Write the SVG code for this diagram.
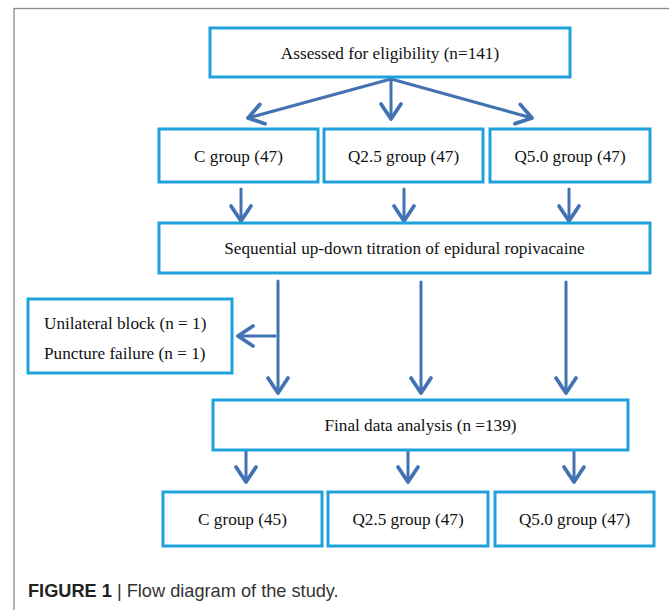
<svg xmlns="http://www.w3.org/2000/svg" width="669" height="610" viewBox="0 0 669 610">
<defs>
<style>
.box{fill:#fff;stroke:#1fa2dc;stroke-width:3}
.t{font-family:"Liberation Serif","Times New Roman",serif;font-size:17.2px;fill:#111;text-anchor:middle}
.tl{font-family:"Liberation Serif","Times New Roman",serif;font-size:17.2px;fill:#111}
.arr{fill:none;stroke:#4372b3;stroke-width:3;stroke-linecap:round;marker-end:url(#ah)}
.cap{font-family:"Liberation Sans",Arial,sans-serif;font-size:18.2px;fill:#333}
</style>
<marker id="ah" markerUnits="userSpaceOnUse" markerWidth="30" markerHeight="30" viewBox="-15 -12 20 24" refX="0" refY="0" orient="auto" overflow="visible">
<path d="M-12,-8 L0,0 L-12,8" fill="none" stroke="#4372b3" stroke-width="3" stroke-linecap="round" stroke-linejoin="round"/>
</marker>
</defs>
<rect width="669" height="610" fill="#fff"/>
<rect x="14" y="8.5" width="700" height="700" fill="none" stroke="#8a8a8a" stroke-width="1.3"/>

<g id="connectors">
<line class="arr" x1="391" y1="79" x2="248" y2="118"/>
<line class="arr" x1="391" y1="79" x2="391" y2="119"/>
<line class="arr" x1="391" y1="79" x2="532" y2="118"/>
<line class="arr" x1="241" y1="189" x2="241" y2="221"/>
<line class="arr" x1="404" y1="189" x2="404" y2="221"/>
<line class="arr" x1="569" y1="189" x2="569" y2="221"/>
<line class="arr" x1="278" y1="281" x2="278" y2="393"/>
<line class="arr" x1="421" y1="282" x2="421" y2="393"/>
<line class="arr" x1="566" y1="282" x2="566" y2="393"/>
<line class="arr" x1="275" y1="336" x2="238" y2="336"/>
<line class="arr" x1="246" y1="451" x2="246" y2="482"/>
<line class="arr" x1="408" y1="452" x2="408" y2="482"/>
<line class="arr" x1="574" y1="452" x2="574" y2="482"/>
</g>

<g id="assessed">
<rect class="box" x="210" y="28" width="360" height="49"/>
<text class="t" x="390" y="59">Assessed for eligibility (n=141)</text>
</g>
<g id="c-group-47">
<rect class="box" x="159" y="129" width="159" height="53"/>
<text class="t" x="238.5" y="161.5">C group (47)</text>
</g>
<g id="q25-group-47">
<rect class="box" x="324" y="129" width="159" height="53"/>
<text class="t" x="403.5" y="161.5">Q2.5 group (47)</text>
</g>
<g id="q50-group-47">
<rect class="box" x="490" y="129" width="160" height="53"/>
<text class="t" x="570" y="161.5">Q5.0 group (47)</text>
</g>
<g id="titration">
<rect class="box" x="159" y="223" width="491" height="50"/>
<text class="t" x="404.5" y="254">Sequential up-down titration of epidural ropivacaine</text>
</g>
<g id="excluded">
<rect class="box" x="28" y="299" width="204" height="74"/>
<text class="tl" x="44" y="329">Unilateral block (n = 1)</text>
<text class="tl" x="44" y="359">Puncture failure (n = 1)</text>
</g>
<g id="final">
<rect class="box" x="213" y="400" width="415" height="50"/>
<text class="t" x="420.5" y="431">Final data analysis (n =139)</text>
</g>
<g id="c-group-45">
<rect class="box" x="163" y="492" width="159" height="54"/>
<text class="t" x="242.5" y="525">C group (45)</text>
</g>
<g id="q25-group-47b">
<rect class="box" x="328" y="492" width="160" height="54"/>
<text class="t" x="408" y="525">Q2.5 group (47)</text>
</g>
<g id="q50-group-47b">
<rect class="box" x="495" y="492" width="159" height="54"/>
<text class="t" x="574.5" y="525">Q5.0 group (47)</text>
</g>

<text class="cap" x="28" y="597"><tspan font-weight="bold" fill="#222">FIGURE 1</tspan> | Flow diagram of the study.</text>
</svg>
